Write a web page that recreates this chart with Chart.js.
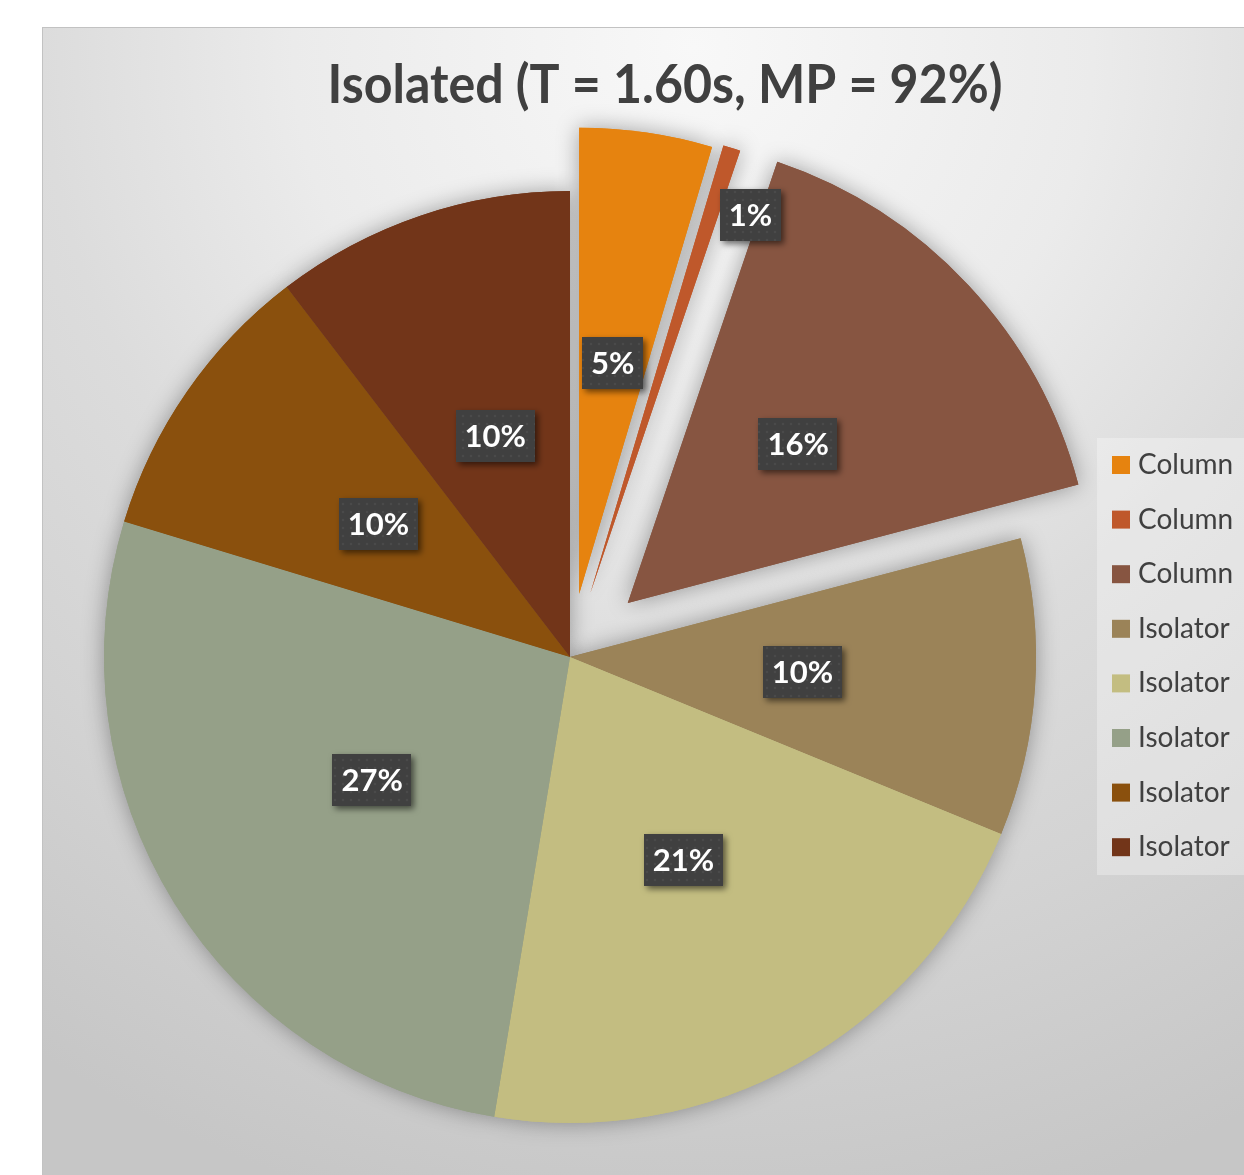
<!DOCTYPE html>
<html>
<head>
<meta charset="utf-8">
<script src="https://cdn.jsdelivr.net/npm/chart.js"></script>
<style>
  html, body { margin: 0; padding: 0; overflow: hidden; background: #fff; width: 1244px; height: 1175px; }
  #panel {
    position: absolute; left: 42px; top: 27px; width: 1250px; height: 1160px;
    border-top: 1px solid #c2c2c2; border-left: 1px solid #c2c2c2;
    background: radial-gradient(circle at 650px 20px, #f8f8f8 0px, #ebebeb 400px, #dcdcdc 650px, #d3d3d3 900px, #c6c6c6 1200px);
  }
  #c { position: absolute; left: 0; top: 0; }
</style>
</head>
<body>
<div id="panel"><canvas id="c" width="1244" height="1147"></canvas></div>
<script>
  // data (percent of total)
  const chartTitle = 'Isolated (T = 1.60s, MP = 92%)';
  const categories = ['Column', 'Column', 'Column', 'Isolator', 'Isolator', 'Isolator', 'Isolator', 'Isolator'];
  const shares = [4.6, 0.6, 15.7, 10.3, 21.4, 27.1, 9.9, 10.4];

  // styling
  const colors = ['#e6830f', '#bf582b', '#875541', '#9b8358', '#c3bd81', '#95a088', '#8a500d', '#723519'];
  const explode = [64, 68, 79, 0, 0, 0, 0, 0];        // px pulled out from centre
  const labelRadius = [0.5, 0.88, 0.5, 0.5, 0.5, 0.5, 0.5, 0.5];
  const labelTurn = [0, 5.3, 0, 0, 0, 0, 0, 0];       // degrees, best-fit nudge

  const FONT = 'Lato, "Open Sans", sans-serif';
  const total = shares.reduce((a, b) => a + b, 0);

  // dotted fill for the data label boxes
  const dot = document.createElement('canvas');
  dot.width = 8; dot.height = 8;
  const dctx = dot.getContext('2d');
  dctx.fillStyle = '#404040'; dctx.fillRect(0, 0, 8, 8);
  dctx.fillStyle = '#4a4a4a'; dctx.beginPath(); dctx.arc(4, 4, 1.3, 0, Math.PI * 2); dctx.fill();

  const explodePlugin = {
    id: 'explode',
    afterDatasetUpdate(chart, args) {
      args.meta.data.forEach((arc, i) => {
        const d = explode[i];
        if (!d) return;
        const mid = (arc.startAngle + arc.endAngle) / 2;
        arc.x += Math.cos(mid) * d;
        arc.y += Math.sin(mid) * d;
      });
    },
    beforeDatasetsDraw(chart) {
      // soft shadow pass under the slices
      const ctx = chart.ctx;
      ctx.save();
      ctx.shadowColor = 'rgba(0,0,0,0.35)';
      ctx.shadowBlur = 22;
      chart.getDatasetMeta(0).data.forEach(a => a.draw(ctx));
      ctx.restore();
    }
  };

  const decorPlugin = {
    id: 'decor',
    beforeDraw(chart) {
      const ctx = chart.ctx;
      // title (slightly condensed to match the original face)
      ctx.save();
      ctx.fillStyle = '#404040';
      ctx.font = 'bold 53px ' + FONT;
      ctx.textAlign = 'center';
      ctx.textBaseline = 'middle';
      ctx.translate(622, 58);
      ctx.scale(0.945, 1);
      ctx.fillText(chartTitle, 0, 0);
      ctx.restore();

      // legend
      ctx.save();
      ctx.fillStyle = 'rgba(255,255,255,0.3)';
      ctx.fillRect(1054, 410, 220, 437);
      ctx.font = '28px ' + FONT;
      ctx.textBaseline = 'middle';
      categories.forEach((name, i) => {
        const y = 437 + i * 54.6;
        ctx.fillStyle = colors[i];
        ctx.fillRect(1069, y - 9, 18, 18);
        ctx.fillStyle = '#404040';
        ctx.fillText(name, 1095, y);
      });
      ctx.restore();
    },
    afterDatasetsDraw(chart) {
      const ctx = chart.ctx;
      const pattern = ctx.createPattern(dot, 'repeat');
      ctx.save();
      ctx.font = 'bold 31px ' + FONT;
      ctx.textAlign = 'center';
      ctx.textBaseline = 'middle';
      chart.getDatasetMeta(0).data.forEach((arc, i) => {
        const mid = (arc.startAngle + arc.endAngle) / 2 + labelTurn[i] * Math.PI / 180;
        const r = arc.outerRadius * labelRadius[i];
        const x = arc.x + Math.cos(mid) * r;
        const y = arc.y + Math.sin(mid) * r;
        const txt = Math.round(shares[i] / total * 100) + '%';
        const w = ctx.measureText(txt).width + 18;
        const h = 52;
        ctx.save();
        ctx.shadowColor = 'rgba(0,0,0,0.55)';
        ctx.shadowBlur = 6;
        ctx.shadowOffsetX = 3;
        ctx.shadowOffsetY = 3;
        ctx.fillStyle = pattern;
        ctx.fillRect(Math.round(x - w / 2), Math.round(y - h / 2), Math.round(w), h);
        ctx.restore();
        ctx.fillStyle = '#ffffff';
        ctx.fillText(txt, x, y + 1);
      });
      ctx.restore();
    }
  };

  new Chart(document.getElementById('c'), {
    type: 'pie',
    data: {
      labels: categories,
      datasets: [{
        data: shares,
        backgroundColor: colors,
        borderWidth: 0,
        clip: false
      }]
    },
    options: {
      responsive: false,
      animation: false,
      events: [],
      layout: { padding: { left: 61, right: 251, top: 163, bottom: 52 } },
      plugins: {
        legend: { display: false },
        title: { display: false },
        tooltip: { enabled: false }
      }
    },
    plugins: [explodePlugin, decorPlugin]
  });
</script>
</body>
</html>
